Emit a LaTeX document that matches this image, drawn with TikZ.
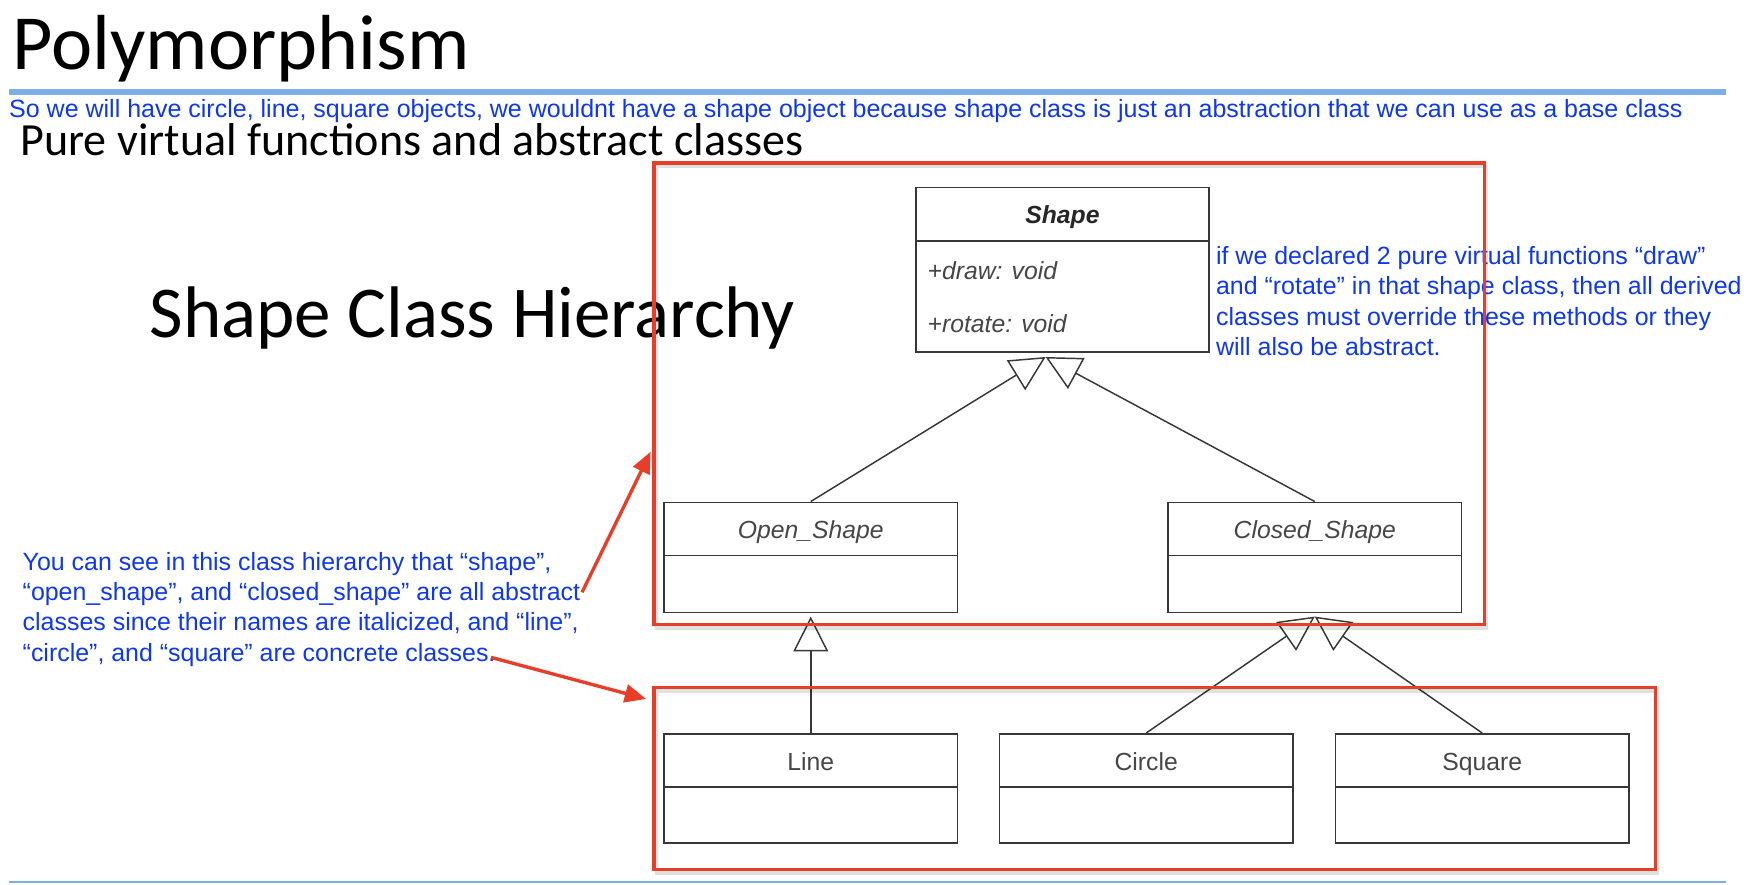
\documentclass[tikz,border=0pt]{standalone}
\usepackage{fontspec}
\setmainfont{Liberation Sans}
\newfontfamily\slidefont{Carlito}
\usetikzlibrary{arrows.meta,calc}
\definecolor{noteblue}{RGB}{15,55,240}
\definecolor{ruleblue}{RGB}{125,175,230}
\definecolor{framered}{RGB}{230,62,40}
\definecolor{umlgray}{RGB}{55,55,55}
\definecolor{umltext}{RGB}{70,70,70}
\begin{document}
\begin{tikzpicture}[x=1pt,y=-1pt,
  umlbox/.style={draw=umlgray, line width=1.4pt, fill=white, minimum width=261pt, inner sep=0},
  umlname/.style={text=umltext, font=\fontsize{22}{22}\selectfont, inner sep=0, anchor=base},
  inherit/.style={draw=umlgray, line width=1.3pt, -{Triangle[length=31pt,width=31pt,fill=white]}},
  redframe/.style={draw=framered, line width=3pt},
  frameshadow/.style={draw=black, opacity=0.12, line width=3pt},
  pointer/.style={draw=framered, line width=3pt, -{Triangle[length=19pt,width=16pt]}},
  note/.style={text=noteblue, font=\fontsize{22.2}{27}\selectfont, inner sep=0, align=left},
]
\useasboundingbox (0,0) rectangle (1568,787);
\fill[white] (0,0) rectangle (1568,787);

% slide headings
\node[anchor=base west, inner sep=0, font=\slidefont\fontsize{69.5}{69.5}\selectfont] (title) at (11,62) {Polymorphism};
\draw[ruleblue, line width=5pt] (8,82) -- (1536,82);
\node[anchor=base west, inner sep=0, text=noteblue, font=\fontsize{22.25}{22.25}\selectfont] (topnote) at (8,105)
  {So we will have circle, line, square objects, we wouldnt have a shape object because shape class is just an abstraction that we can use as a base class};
\node[anchor=base west, inner sep=0, font=\slidefont\fontsize{41}{41}\selectfont] (subtitle) at (18,138) {Pure virtual functions and abstract classes};
\node[anchor=base west, inner sep=0, font=\slidefont\fontsize{65}{65}\selectfont] (hier) at (133,300) {Shape Class Hierarchy};
\draw[ruleblue, line width=2pt] (8,785) -- (1536,785);

% annotations
\node[note, anchor=north west] (rightnote) at (1082,219)
  {if we declared 2 pure virtual functions “draw”\\
   and “rotate” in that shape class, then all derived\\
   classes must override these methods or they\\
   will also be abstract.};
\node[note, anchor=north west] (leftnote) at (20,491)
  {You can see in this class hierarchy that “shape”,\\
   “open\_shape”, and “closed\_shape” are all abstract\\
   classes since their names are italicized, and “line”,\\
   “circle”, and “square” are concrete classes.};

% UML classes
\node[umlbox, minimum height=146pt] (shape) at (945.5,240) {};
\node[umlbox, minimum height=98pt] (open) at (721.5,496) {};
\node[umlbox, minimum height=98pt] (closed) at (1170,496) {};
\node[umlbox, minimum height=97pt] (line) at (721.5,701.5) {};
\node[umlbox, minimum height=97pt] (circle) at (1020,701.5) {};
\node[umlbox, minimum height=97pt] (square) at (1319,701.5) {};

\foreach \c in {shape,open,closed,line,circle,square}
  \draw[umlgray, line width=1.4pt] ($(\c.north west)+(0,48)$) -- ($(\c.north east)+(0,48)$);

\node[umlname, font=\bfseries\itshape\fontsize{22}{22}\selectfont, text=black!85] (shapename) at ($(shape.north)+(0,33)$) {Shape};
\node[umlname, font=\itshape\fontsize{22}{22}\selectfont, anchor=base west] (drawop) at ($(shape.north west)+(11,82)$) {+draw: void};
\node[umlname, font=\itshape\fontsize{22}{22}\selectfont, anchor=base west] (rotop) at ($(shape.north west)+(11,130)$) {+rotate: void};
\node[umlname, font=\itshape\fontsize{22}{22}\selectfont] (openname) at ($(open.north)+(0,33)$) {Open\_Shape};
\node[umlname, font=\itshape\fontsize{22}{22}\selectfont] (closedname) at ($(closed.north)+(0,33)$) {Closed\_Shape};
\node[umlname] (linename) at ($(line.north)+(0,33)$) {Line};
\node[umlname] (circlename) at ($(circle.north)+(0,33)$) {Circle};
\node[umlname] (squarename) at ($(square.north)+(0,33)$) {Square};

% generalisation arrows
\coordinate (shapetip) at ($(shape.south)+(-15,4)$);
\coordinate (openbase) at ($(open.south)+(0,3)$);
\coordinate (closedbase) at ($(closed.south)+(0,3)$);
\draw[inherit] (open.north) -- (shapetip);
\draw[inherit] (closed.north) -- (shapetip);
\draw[inherit] (line.north) -- (openbase);
\draw[inherit] (circle.north) -- (closedbase);
\draw[inherit] (square.north) -- (closedbase);

% highlight frames
\draw[frameshadow] (584,148) rectangle (1323,559);
\draw[frameshadow] (584,615) rectangle (1475,777);
\draw[redframe] (582,145) rectangle (1321,556);
\draw[redframe] (582,612) rectangle (1473,774);

% pointers from the note to the frames
\coordinate (p1s) at (518,527);
\coordinate (p1e) at (579,402);
\coordinate (p2s) at (437,585);
\coordinate (p2e) at (575,622);
\draw[pointer] (p1s) -- (p1e);
\draw[pointer] (p2s) -- (p2e);
\end{tikzpicture}
\end{document}
